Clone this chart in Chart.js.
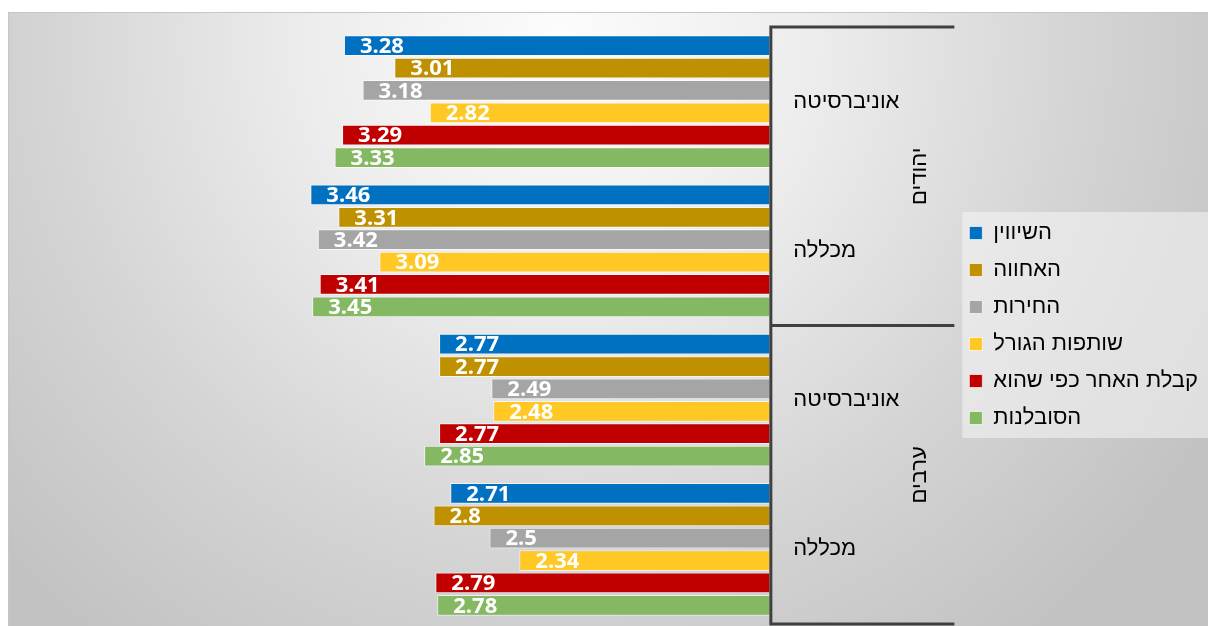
<!DOCTYPE html>
<html>
<head>
<meta charset="utf-8">
<script src="https://cdn.jsdelivr.net/npm/chart.js@4"></script>
<style>
  html, body { margin: 0; padding: 0; background: #fff; }
  #wrap {
    position: absolute; left: 8px; top: 12px; width: 1200px; height: 614px;
    border-top: 1px solid #c6c6c6; border-left: 1px solid #c6c6c6;
    box-sizing: border-box;
    background: radial-gradient(circle at 552px 28px, #fcfcfc 0px, #ececec 260px, #d4d4d4 520px, #c2c2c2 760px);
  }
</style>
</head>
<body>
<div id="wrap"><canvas id="graf"></canvas></div>
<script>
// קטגוריות: מוסד לימודים בתוך כל מגזר
const categories = ['אוניברסיטה', 'מכללה', 'אוניברסיטה', 'מכללה'];
const groups = ['יהודים', 'ערבים'];

const seriesNames = ['השיווין', 'האחווה', 'החירות', 'שותפות הגורל', 'קבלת האחר כפי שהוא', 'הסובלנות'];
const seriesColors = ['#0070C0', '#BF9000', '#A5A5A5', '#FFC824', '#C00000', '#84B862'];

const shivyon   = [3.28, 3.46, 2.77, 2.71];
const achva     = [3.01, 3.31, 2.77, 2.8];
const cheirut   = [3.18, 3.42, 2.49, 2.5];
const shutafut  = [2.82, 3.09, 2.48, 2.34];
const kabala    = [3.29, 3.41, 2.77, 2.79];
const sovlanut  = [3.33, 3.45, 2.85, 2.78];
const seriesValues = [shivyon, achva, cheirut, shutafut, kabala, sovlanut];

const axisMin = 1;
const axisMax = 5;

const hebFont = "'Liberation Sans', 'DejaVu Sans', sans-serif";

// תוויות ערך לבנות בקצה כל עמודה
const valueLabels = {
  id: 'valueLabels',
  afterDatasetsDraw (chart) {
    const ctx = chart.ctx;
    ctx.save();
    ctx.font = "bold 22px 'Open Sans', sans-serif";
    ctx.fillStyle = '#ffffff';
    ctx.textAlign = 'left';
    ctx.textBaseline = 'middle';
    chart.data.datasets.forEach((ds, i) => {
      chart.getDatasetMeta(i).data.forEach((bar, j) => {
        ctx.fillText(String(ds.data[j]), bar.x + 16, bar.y + 1);
      });
    });
    ctx.restore();
  }
};

// ציר קטגוריות דו-שכבתי: קווי סוגריים ושם המגזר בכתב אנכי
const groupAxis = {
  id: 'groupAxis',
  beforeDraw (chart) {
    // רקע מקרא
    const lg = chart.legend;
    if (!lg || !lg.legendHitBoxes.length) return;
    const boxes = lg.legendHitBoxes;
    const ctx = chart.ctx;
    const top = boxes[0].top - 10;
    const bottom = boxes[boxes.length - 1].top + boxes[boxes.length - 1].height + 9;
    ctx.save();
    ctx.fillStyle = 'rgba(245,245,245,0.55)';
    ctx.fillRect(lg.left + 8, top, chart.width - lg.left - 8, bottom - top);
    ctx.restore();
  },
  afterDraw (chart) {
    const y = chart.scales.y;
    const ctx = chart.ctx;
    const per = categories.length / groups.length;
    const edges = [y.top];
    for (let g = 1; g < groups.length; g++) {
      edges.push((y.getPixelForValue(g * per - 1) + y.getPixelForValue(g * per)) / 2);
    }
    edges.push(y.bottom);

    ctx.save();
    ctx.strokeStyle = '#404040';
    ctx.lineWidth = 3;
    ctx.beginPath();
    ctx.moveTo(y.left + 1.5, y.top - 1.5);
    ctx.lineTo(y.left + 1.5, y.bottom + 1.5);
    edges.forEach(e => {
      ctx.moveTo(y.left, e);
      ctx.lineTo(y.right, e);
    });
    ctx.stroke();

    ctx.fillStyle = '#000';
    ctx.font = '22px ' + hebFont;
    ctx.textAlign = 'center';
    ctx.textBaseline = 'middle';
    groups.forEach((name, g) => {
      const mid = (edges[g] + edges[g + 1]) / 2;
      ctx.save();
      ctx.translate(y.left + 151, mid);
      ctx.rotate(-Math.PI / 2);
      ctx.fillText(name, 0, 0);
      ctx.restore();
    });
    ctx.restore();
  }
};

new Chart(document.getElementById('graf'), {
  type: 'bar',
  data: {
    labels: categories,
    datasets: seriesNames.map((name, i) => ({
      label: name,
      data: seriesValues[i],
      backgroundColor: seriesColors[i],
      borderColor: 'rgba(255,255,255,0.65)',
      borderWidth: 1,
      categoryPercentage: 0.9,
      barPercentage: 0.93
    }))
  },
  options: {
    indexAxis: 'y',
    responsive: true,
    maintainAspectRatio: false,
    animation: false,
    layout: { padding: { top: 14, bottom: 2, left: 14, right: 0 } },
    scales: {
      x: { display: false, reverse: true, min: axisMin, max: axisMax },
      y: {
        position: 'right',
        grid: { display: false, drawTicks: false },
        border: { display: false },
        ticks: { color: '#000', padding: 24, font: { family: hebFont, size: 22 } },
        afterFit (scale) {
          scale.width = 185;
          scale.paddingTop = 0;
          scale.paddingBottom = 0;
        }
      }
    },
    plugins: {
      legend: {
        position: 'right',
        labels: {
          color: '#000',
          font: { family: hebFont, size: 22 },
          boxWidth: 13,
          boxHeight: 13,
          padding: 15
        }
      },
      tooltip: { enabled: false }
    }
  },
  plugins: [valueLabels, groupAxis]
});
</script>
</body>
</html>
